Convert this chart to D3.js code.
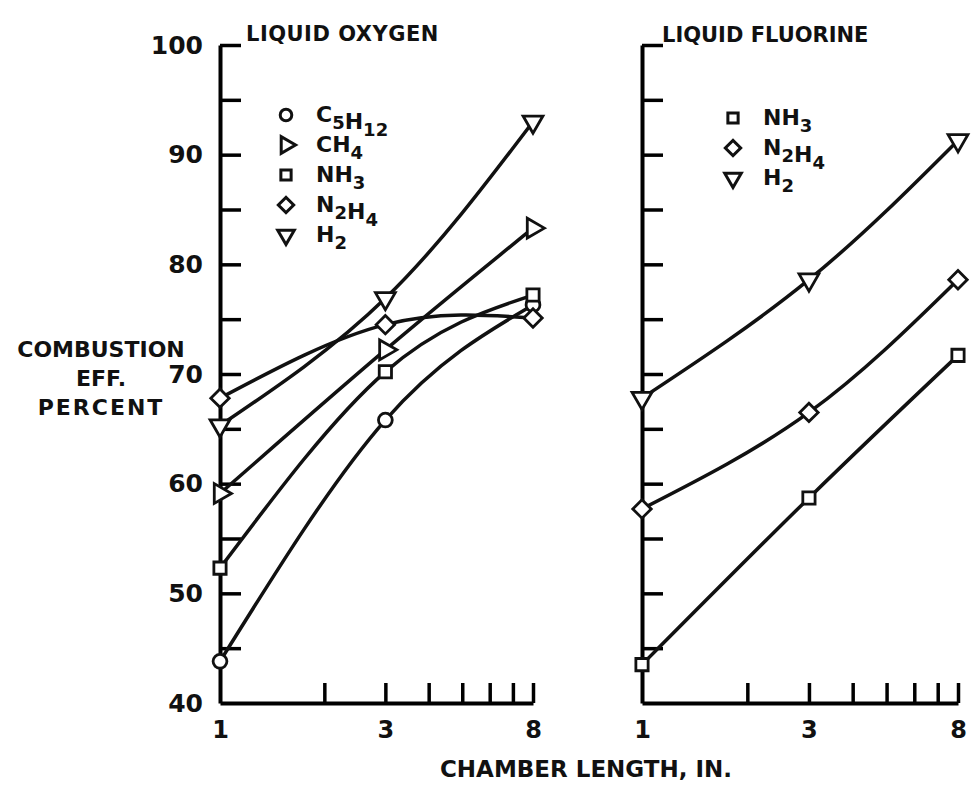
<!DOCTYPE html>
<html>
<head>
<meta charset="utf-8">
<script src="https://cdn.jsdelivr.net/npm/d3@7"></script>
<style>
  body { margin: 0; background: #fff; }
  text { font-family: "DejaVu Sans", sans-serif; font-weight: bold; fill: #111; }
</style>
</head>
<body>
<div id="chart"></div>
<script>
// chamber length (in.) and combustion efficiency (percent)
var chamberLength = [1, 3, 8];

var oxyC5H12 = [43.8, 65.8, 76.3];
var oxyCH4   = [59.1, 72.2, 83.3];
var oxyNH3   = [52.3, 70.2, 77.2];
var oxyN2H4  = [67.8, 74.5, 75.1];
var oxyH2    = [65.3, 76.9, 93.0];

var fluNH3  = [43.5, 58.7, 71.7];
var fluN2H4 = [57.7, 66.5, 78.6];
var fluH2   = [67.8, 78.6, 91.3];

var yTickLabels = [40, 50, 60, 70, 80, 90, 100];
var yTickMarks = [45, 50, 55, 60, 65, 70, 75, 80, 85, 90, 95, 100];
var xTickMarks = [2, 3, 4, 5, 6, 7, 8];
var xTickLabels = [1, 3, 8];

var width = 975, height = 788;

var svg = d3.select("#chart")
    .append("svg")
    .attr("width", width)
    .attr("height", height);

// shared y scale
var y = d3.scaleLinear()
    .domain([40, 100])
    .range([703, 45]);

// one log x scale per panel
var xOxy = d3.scaleLog().domain([1, 8]).range([220, 533]);
var xFlu = d3.scaleLog().domain([1, 8]).range([642, 958]);

var symbols = {
    circle:  { type: d3.symbolCircle, rot: 0, size: 150 },
    tri:     { type: d3.symbolTriangle, rot: 90, size: 170 },
    square:  { type: d3.symbolSquare, rot: 0, size: 150 },
    diamond: { type: d3.symbolSquare, rot: 45, size: 170 },
    down:    { type: d3.symbolTriangle, rot: 180, size: 170 }
};

function drawPanel(x, series, showLabels) {
    var g = svg.append("g");

    // y axis: ticks point inward
    g.append("g")
        .attr("transform", "translate(" + x.range()[0] + ",0)")
        .call(d3.axisRight(y).tickValues(yTickMarks).tickSize(21).tickSizeOuter(0).tickFormat(""))
        .call(function (a) {
            a.select(".domain").attr("stroke-width", 4);
            a.selectAll(".tick line").attr("stroke-width", 3.5);
        });

    if (showLabels) {
        g.append("g")
            .attr("transform", "translate(" + x.range()[0] + ",0)")
            .call(d3.axisLeft(y).tickValues(yTickLabels).tickSize(0).tickPadding(17))
            .call(function (a) {
                a.select(".domain").remove();
                a.selectAll("text")
                    .attr("font-size", "25px")
                    .style("font-family", "DejaVu Sans")
                    .style("font-weight", "bold");
            });
    }

    // x axis: ticks point up
    g.append("g")
        .attr("transform", "translate(0," + y(40) + ")")
        .call(d3.axisTop(x).tickValues(xTickMarks).tickSize(20).tickSizeOuter(0).tickFormat(""))
        .call(function (a) {
            a.select(".domain").attr("stroke-width", 4);
            a.selectAll(".tick line").attr("stroke-width", 3.5);
        });

    g.append("g")
        .attr("transform", "translate(0," + y(40) + ")")
        .call(d3.axisBottom(x).tickValues(xTickLabels).tickSize(0).tickPadding(18).tickFormat(d3.format("d")))
        .call(function (a) {
            a.select(".domain").remove();
            a.selectAll("text")
                .attr("font-size", "24px")
                .style("font-family", "DejaVu Sans")
                .style("font-weight", "bold");
        });

    var line = d3.line()
        .x(function (d) { return x(d[0]); })
        .y(function (d) { return y(d[1]); })
        .curve(d3.curveNatural);

    series.forEach(function (s) {
        var pts = chamberLength.map(function (c, i) { return [c, s.values[i]]; });
        g.append("path")
            .datum(pts)
            .attr("d", line)
            .attr("fill", "none")
            .attr("stroke", "#111")
            .attr("stroke-width", 3.5);

        var sym = symbols[s.marker];
        g.selectAll(null)
            .data(pts)
            .enter()
            .append("path")
            .attr("d", d3.symbol().type(sym.type).size(sym.size))
            .attr("transform", function (d) {
                return "translate(" + x(d[0]) + "," + y(d[1]) + ") rotate(" + sym.rot + ")";
            })
            .attr("fill", "#fff")
            .attr("stroke", "#111")
            .attr("stroke-width", 2.8);
    });
}

// formula text: digits become subscripts
function formula(sel, label) {
    label.split(/(\d+)/).forEach(function (part) {
        if (part === "") return;
        if (/\d/.test(part)) {
            sel.append("tspan").attr("dy", 7).attr("font-size", "18px").text(part);
            sel.append("tspan").attr("dy", -7).text("");
        } else {
            sel.append("tspan").text(part);
        }
    });
}

function drawLegend(x0, y0, rows) {
    rows.forEach(function (r, i) {
        var sym = symbols[r.marker];
        svg.append("path")
            .attr("d", d3.symbol().type(sym.type).size(sym.size * 0.7))
            .attr("transform", "translate(" + x0 + "," + (y0 + i * 30 - 7) + ") rotate(" + sym.rot + ")")
            .attr("fill", "#fff")
            .attr("stroke", "#111")
            .attr("stroke-width", 3);
        var t = svg.append("text")
            .attr("x", x0 + 30)
            .attr("y", y0 + i * 30)
            .attr("font-size", "22px");
        formula(t, r.label);
    });
}

drawPanel(xOxy, [
    { values: oxyC5H12, marker: "circle" },
    { values: oxyCH4, marker: "tri" },
    { values: oxyNH3, marker: "square" },
    { values: oxyN2H4, marker: "diamond" },
    { values: oxyH2, marker: "down" }
], true);

drawPanel(xFlu, [
    { values: fluNH3, marker: "square" },
    { values: fluN2H4, marker: "diamond" },
    { values: fluH2, marker: "down" }
], false);

drawLegend(286, 122, [
    { label: "C5H12", marker: "circle" },
    { label: "CH4", marker: "tri" },
    { label: "NH3", marker: "square" },
    { label: "N2H4", marker: "diamond" },
    { label: "H2", marker: "down" }
]);

drawLegend(733, 125, [
    { label: "NH3", marker: "square" },
    { label: "N2H4", marker: "diamond" },
    { label: "H2", marker: "down" }
]);

// panel titles
svg.append("text").attr("x", 246).attr("y", 41).attr("font-size", "21px")
    .attr("letter-spacing", "0.5px").text("LIQUID OXYGEN");
svg.append("text").attr("x", 662).attr("y", 42).attr("font-size", "21px")
    .text("LIQUID FLUORINE");

// y axis title
var yTitle = ["COMBUSTION", "EFF.", "PERCENT"];
svg.selectAll(".ytitle")
    .data(yTitle)
    .enter()
    .append("text")
    .attr("class", "ytitle")
    .attr("x", 101)
    .attr("y", function (d, i) { return 357 + i * 29; })
    .attr("text-anchor", "middle")
    .attr("font-size", "22px")
    .attr("letter-spacing", function (d) { return d === "PERCENT" ? "2px" : "0px"; })
    .text(function (d) { return d; });

// x axis title
svg.append("text")
    .attr("x", 586)
    .attr("y", 777)
    .attr("text-anchor", "middle")
    .attr("font-size", "23px")
    .text("CHAMBER LENGTH, IN.");
</script>
</body>
</html>
